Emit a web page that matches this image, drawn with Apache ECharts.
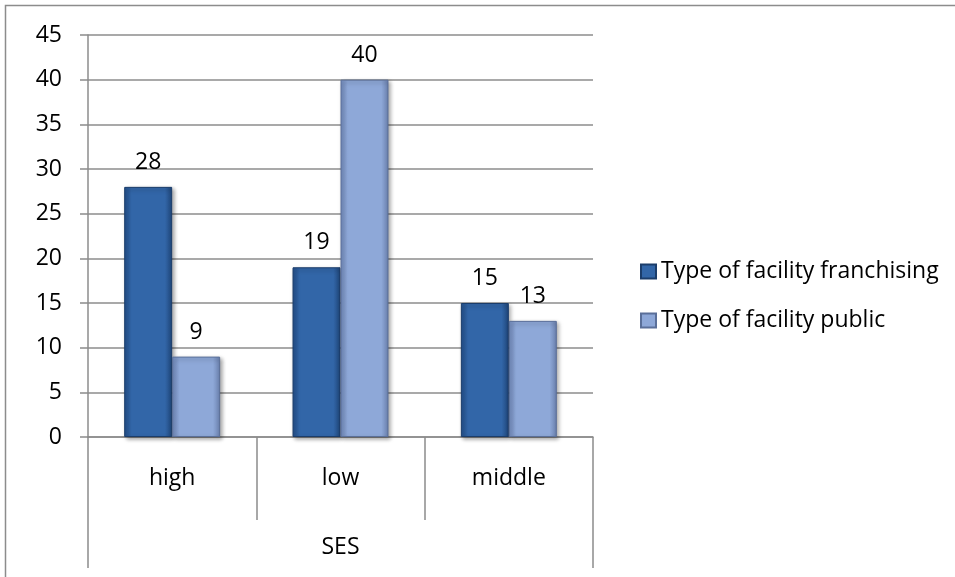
<!DOCTYPE html>
<html>
<head>
<meta charset="utf-8">
<script src="https://cdn.jsdelivr.net/npm/echarts@6/dist/echarts.min.js"></script>
<style>
  html, body { margin: 0; padding: 0; background: #fff; }
  #chart { width: 955px; height: 577px; }
</style>
</head>
<body>
<div id="chart"></div>
<script>
// data
const categories = ['high', 'low', 'middle'];
const groupLabel = ['SES'];
const franchising = [28, 19, 15];
const publicFac = [9, 40, 13];
const seriesNames = ['Type of facility franchising', 'Type of facility public'];

const chart = echarts.init(document.getElementById('chart'));
const font = '"Open Sans", Lato, sans-serif';
const fs = 23;
const gray = '#8c8c8c';

// bevel-ish look: darker edges, lighter middle
const darkFill = new echarts.graphic.LinearGradient(0, 0, 1, 0, [
  { offset: 0, color: '#234f8a' },
  { offset: 0.15, color: '#3266a8' },
  { offset: 0.85, color: '#3266a8' },
  { offset: 1, color: '#1f4578' }
]);
const lightFill = new echarts.graphic.LinearGradient(0, 0, 1, 0, [
  { offset: 0, color: '#7189ba' },
  { offset: 0.15, color: '#8ea8d8' },
  { offset: 0.85, color: '#8ea8d8' },
  { offset: 1, color: '#6a80ad' }
]);

const option = {
  animation: false,
  textStyle: { fontFamily: font },
  graphic: [{
    type: 'rect',
    shape: { x: 5.5, y: 5.5, width: 1200, height: 1200 },
    style: { fill: 'none', stroke: gray, lineWidth: 1.5 },
    silent: true
  }],
  grid: { left: 88, right: 362, top: 35, bottom: 140 },
  legend: {
    orient: 'vertical',
    left: 635,
    top: 255,
    icon: 'rect',
    itemWidth: 15,
    itemHeight: 14,
    itemGap: 26,
    textStyle: { fontSize: fs, color: '#000', fontFamily: font },
    data: seriesNames
  },
  xAxis: [
    {
      type: 'category',
      data: categories,
      axisLine: { show: true, lineStyle: { color: gray, width: 1.5 } },
      axisTick: { show: true, interval: 0, length: 83, lineStyle: { color: gray, width: 1.5 } },
      axisLabel: { margin: 30, fontSize: fs, color: '#000', fontFamily: font }
    },
    {
      type: 'category',
      position: 'bottom',
      data: groupLabel,
      axisLine: { show: false },
      axisTick: { show: true, length: 131, lineStyle: { color: gray, width: 1.5 } },
      axisLabel: { margin: 99, fontSize: fs, color: '#000', fontFamily: font }
    }
  ],
  yAxis: {
    type: 'value',
    min: 0,
    max: 45,
    interval: 5,
    axisLine: { show: true, lineStyle: { color: gray, width: 1.5 } },
    axisTick: { show: true, length: 8, lineStyle: { color: gray, width: 1.5 } },
    axisLabel: { margin: 26, fontSize: fs, color: '#000', fontFamily: font },
    splitLine: { lineStyle: { color: gray, width: 1.5 } }
  },
  series: [
    {
      name: seriesNames[0],
      type: 'bar',
      data: franchising,
      barGap: 0,
      barCategoryGap: '43%',
      itemStyle: {
        color: darkFill,
        borderColor: '#1b3d6b',
        borderWidth: 1,
        shadowColor: 'rgba(0,0,0,0.35)',
        shadowBlur: 4,
        shadowOffsetX: 2,
        shadowOffsetY: 2
      },
      label: { show: true, position: 'top', distance: 13, fontSize: fs, color: '#000', fontFamily: font }
    },
    {
      name: seriesNames[1],
      type: 'bar',
      data: publicFac,
      itemStyle: {
        color: lightFill,
        borderColor: '#5a6f99',
        borderWidth: 1,
        shadowColor: 'rgba(0,0,0,0.35)',
        shadowBlur: 4,
        shadowOffsetX: 2,
        shadowOffsetY: 2
      },
      label: { show: true, position: 'top', distance: 13, fontSize: fs, color: '#000', fontFamily: font }
    }
  ]
};

chart.setOption(option);
</script>
</body>
</html>
